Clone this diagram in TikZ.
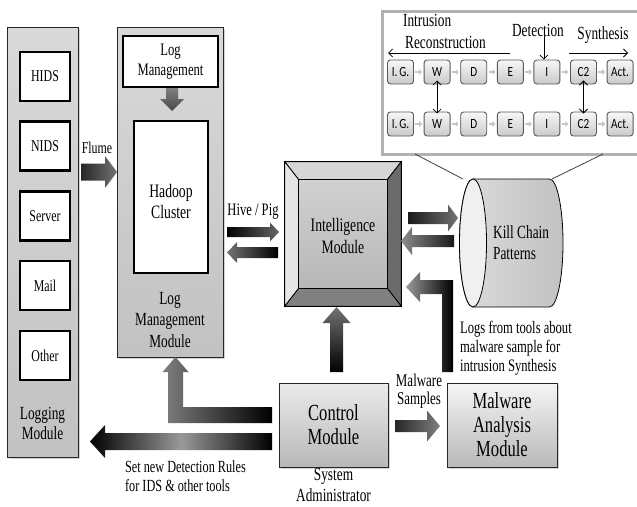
\documentclass[tikz,border=0pt]{standalone}
\usepackage{fontspec}
\setmainfont{Liberation Serif}
\newfontfamily\chainfont{Carlito}
\usetikzlibrary{arrows.meta,calc,shadows}

\definecolor{panelTop}{gray}{0.85}
\definecolor{panelBot}{gray}{0.76}
\definecolor{ctrlTop}{gray}{0.92}
\definecolor{ctrlBot}{gray}{0.72}
\definecolor{faceTop}{gray}{0.84}
\definecolor{faceLeft}{gray}{0.90}
\definecolor{faceRight}{gray}{0.42}
\definecolor{faceBot}{gray}{0.50}
\definecolor{faceInTop}{gray}{0.82}
\definecolor{faceInBot}{gray}{0.72}

\newcommand\fs[2]{\fontsize{#1}{#2}\selectfont}
% horizontal block arrow: tail x, head base x, tip x, centre y, shaft half, head half, shading
\newcommand\hblock[7]{%
  \shade[#7] (#1,#4-#5) -- (#2,#4-#5) -- (#2,#4-#6) -- (#3,#4) -- (#2,#4+#6)
    -- (#2,#4+#5) -- (#1,#4+#5) -- cycle;}
% vertical block arrow: tail y, head base y, tip y, centre x, shaft half, head half, shading
\newcommand\vblock[7]{%
  \shade[#7] (#4-#5,#1) -- (#4-#5,#2) -- (#4-#6,#2) -- (#4,#3) -- (#4+#6,#2)
    -- (#4+#5,#2) -- (#4+#5,#1) -- cycle;}

\begin{document}
\begin{tikzpicture}[x=1pt,y=-1pt,
  panel/.style={draw=black!85, line width=0.8pt, top color=panelTop, bottom color=panelBot,
    inner sep=0, drop shadow={shadow xshift=2pt,shadow yshift=-2pt,opacity=0.35}},
  item/.style={draw=black, line width=2.2pt, fill=white, minimum width=50, minimum height=49,
    inner sep=0},
  % condensed serif lettering
  txt/.style={inner sep=0, align=center, xscale=0.72, transform shape},
  ctrl/.style={draw=black!85, line width=0.8pt, top color=ctrlTop, bottom color=ctrlBot,
    minimum width=110, minimum height=84, inner sep=0,
    drop shadow={shadow xshift=2pt,shadow yshift=-2pt,opacity=0.35}},
  chain/.style={rounded corners=3pt, draw=black!65, line width=0.9pt, top color=gray!6,
    bottom color=gray!42, minimum width=26, minimum height=24, inner sep=0},
  ctxt/.style={inner sep=0, font=\chainfont\fs{14}{14}, xscale=0.8, transform shape},
  smallarr/.style={draw=gray!45, line width=2.4pt, -{Triangle[length=3pt,width=5.5pt]}},
  thinarr/.style={draw=black, line width=0.8pt, -{Straight Barb[length=4pt,width=8pt]}},
  thinboth/.style={draw=black, line width=0.8pt, {Straight Barb[length=4pt,width=8pt]}-{Straight Barb[length=4pt,width=8pt]}}
]
\useasboundingbox (0,0) rectangle (637,506);

% ---------- Logging module ----------
\node[panel, minimum width=71, minimum height=430] (logging) at (42.5,242) {};
\foreach \nm/\t/\y in {hids/HIDS/76.5, nids/NIDS/146, server/Server/216, mail/Mail/285.5, other/Other/355.5} {
  \node[item] (\nm) at (45,\y) {};
  \node[txt, font=\fs{16.5}{19}] (\nm txt) at (\nm.center) {\t};
}
\node[txt, font=\fs{18.5}{20}] (logtxt) at (42.5,423) {Logging\\Module};

% ---------- Log management module ----------
\node[panel, minimum width=106, minimum height=330] (logmgmt) at (170,192) {};
\node[draw=black, line width=2.2pt, fill=white, minimum width=95, minimum height=51, inner sep=0]
  (logbox) at (170.5,61.5) {};
\node[txt, font=\fs{17.5}{20}] (logboxtxt) at (logbox.center) {Log\\Management};
\node[draw=black, line width=2.2pt, fill=white, minimum width=74, minimum height=152, inner sep=0]
  (hadoop) at (171,197) {};
\node[txt, font=\fs{19}{21}] (hadooptxt) at (171,201) {Hadoop\\Cluster};
\node[txt, font=\fs{18.5}{21.5}] (lmtxt) at (170,320) {Log\\Management\\Module};
\vblock{88}{99}{111}{172}{6}{12}{top color=black!50,bottom color=black!72}

% ---------- Intelligence module (bevelled block) ----------
\node[minimum width=116, minimum height=144, inner sep=0] (intel) at (343,234) {};
\coordinate (oTL) at (intel.north west);
\coordinate (oTR) at (intel.north east);
\coordinate (oBL) at (intel.south west);
\coordinate (oBR) at (intel.south east);
\coordinate (iTL) at ($(oTL)+(14,18)$);
\coordinate (iTR) at ($(oTR)+(-14,18)$);
\coordinate (iBL) at ($(oBL)+(14,-18)$);
\coordinate (iBR) at ($(oBR)+(-14,-18)$);
\begin{scope}[draw=black, line width=0.8pt]
  \filldraw[fill=faceTop] (oTL) -- (oTR) -- (iTR) -- (iTL) -- cycle;
  \filldraw[fill=faceLeft] (oTL) -- (iTL) -- (iBL) -- (oBL) -- cycle;
  \filldraw[fill=faceRight] (oTR) -- (oBR) -- (iBR) -- (iTR) -- cycle;
  \filldraw[fill=faceBot] (oBL) -- (iBL) -- (iBR) -- (oBR) -- cycle;
  \shade[top color=faceInTop, bottom color=faceInBot, draw=black] (iTL) rectangle (iBR);
\end{scope}
\draw[line width=1.2pt] (oTL) rectangle (oBR);
\node[txt, font=\fs{19}{22}] (inteltxt) at (343,236) {Intelligence\\Module};

% ---------- Kill chain store ----------
\coordinate (kcL) at (473,243);
\shade[left color=gray!28, right color=gray!48, draw=black, line width=0.8pt]
  (473,179) -- (549.5,179) arc (-90:90:13.5 and 64) -- (473,307) arc (90:270:13.5 and 64) -- cycle;
\filldraw[fill=gray!12, draw=black, line width=0.8pt] (kcL) ellipse (13.5 and 64);
\node[txt, align=left, anchor=west, font=\fs{18.5}{21}] (killtxt) at (493,243) {Kill Chain\\Patterns};
\coordinate (kcTopL) at (463,179);
\coordinate (kcTopR) at (552,179);

% ---------- Kill chain detail panel ----------
\node[draw=gray!60, line width=3pt, fill=white, minimum width=263, minimum height=143, inner sep=0]
  (inset) at (513.5,82.5) {};
\coordinate (insL) at (415,154);
\coordinate (insR) at (603,154);
\draw[black!75, line width=0.8pt] (insL) -- (kcTopL);
\draw[black!75, line width=0.8pt] (insR) -- (kcTopR);

\foreach \t [count=\i] in {I.\,G.,W,D,E,I,C2,Act.} {
  \node[chain] (r1c\i) at ({400.5+36.6*(\i-1)},72) {};
  \node[ctxt] (r1t\i) at (r1c\i.center) {\t};
  \node[chain] (r2c\i) at ({400.5+36.6*(\i-1)},124) {};
  \node[ctxt] (r2t\i) at (r2c\i.center) {\t};
}
\foreach \i in {1,...,6} {
  \pgfmathtruncatemacro\j{\i+1}
  \draw[smallarr] ($(r1c\i.east)+(1.5,0)$) -- ($(r1c\j.west)+(-1.5,0)$);
  \draw[smallarr] ($(r2c\i.east)+(1.5,0)$) -- ($(r2c\j.west)+(-1.5,0)$);
}
\draw[thinboth] ($(r1c2.south)+(0,-4)$) -- ($(r2c2.north)+(0,2)$);
\draw[thinboth] ($(r1c6.south)+(0,-4)$) -- ($(r2c6.north)+(0,2)$);

\node[txt, anchor=west, font=\fs{18.5}{18}] (intr) at (403,20) {Intrusion};
\node[txt, anchor=west, font=\fs{18.5}{18}] (recon) at (405,42) {Reconstruction};
\node[txt, font=\fs{18.5}{18}] (detect) at (538,30) {Detection};
\node[txt, font=\fs{18.5}{18}] (synth) at (603,35) {Synthesis};
\coordinate (reconA) at (510,53);
\coordinate (reconB) at (388,53);
\coordinate (synthA) at (569,53);
\coordinate (synthB) at (628,53);
\draw[thinarr] (reconA) -- (reconB);
\draw[thinarr] (synthA) -- (synthB);
\draw[thinarr] ($(r1c5.north)+(-3,-24)$) -- ($(r1c5.north)+(-3,0)$);

% ---------- Control and malware analysis ----------
\node[ctrl, minimum width=109] (control) at (333.5,425) {};
\node[txt, font=\fs{23}{24}] (controltxt) at (control.center) {Control\\Module};
\node[ctrl, top color=gray!8, bottom color=gray!55] (malware) at (502,425) {};
\node[txt, font=\fs{23}{24}] (malwaretxt) at (malware.center) {Malware\\Analysis\\Module};
\node[txt, font=\fs{18.5}{21}] (admin) at (333.5,485) {System\\Administrator};

% ---------- Block arrows ----------
\node[txt, font=\fs{16.5}{16}] (flume) at (97,148) {Flume};
\hblock{81}{105}{117}{172}{8.5}{16}{left color=black!85,right color=black!55}

\node[txt, font=\fs{17.5}{17.5}] (hive) at (253,212) {Hive / Pig};
\hblock{227}{270}{279}{232}{5}{9.5}{left color=black,right color=black!60}
\hblock{278}{237}{227}{252.5}{5.5}{10.5}{left color=black!55,right color=black}

\hblock{408}{448}{458}{218}{6}{13.5}{left color=black!90,right color=black!55}
\hblock{454}{412}{401}{241}{6}{14}{left color=black!45,right color=black!90}

% malware analysis results back to the intelligence module
\shade[left color=black!40, right color=black]
  (453,372) -- (453,280) -- (420,280) -- (420,272) -- (406,287) -- (420,302)
  -- (420,294) -- (442,294) -- (442,372) -- cycle;
\node[txt, align=left, anchor=west, font=\fs{17.5}{19}] (logsfrom) at (460,348)
  {Logs from tools about\\malware sample for\\intrusion Synthesis};

% control module to intelligence module
\vblock{372}{323}{307}{336.5}{6.5}{14}{bottom color=black, top color=black!55}

% control module to log management module
\shade[left color=black!50, right color=black]
  (272,407) -- (183,407) -- (183,372) -- (188.5,372) -- (175.5,357) -- (162.5,372)
  -- (168,372) -- (168,423) -- (272,423) -- cycle;

% control module back to the logging sources
\hblock{272}{105}{90}{441.5}{8.5}{16.5}{left color=black,right color=black,middle color=black!40}
\node[txt, align=left, anchor=west, font=\fs{17}{19}] (rules) at (125,476)
  {Set new Detection Rules\\for IDS \& other tools};

% samples to malware analysis
\node[txt, font=\fs{18}{18}] (samples) at (419,391) {Malware\\Samples};
\hblock{395}{427}{440}{426}{6}{15.5}{left color=black!85,right color=black!50}

\end{tikzpicture}
\end{document}
